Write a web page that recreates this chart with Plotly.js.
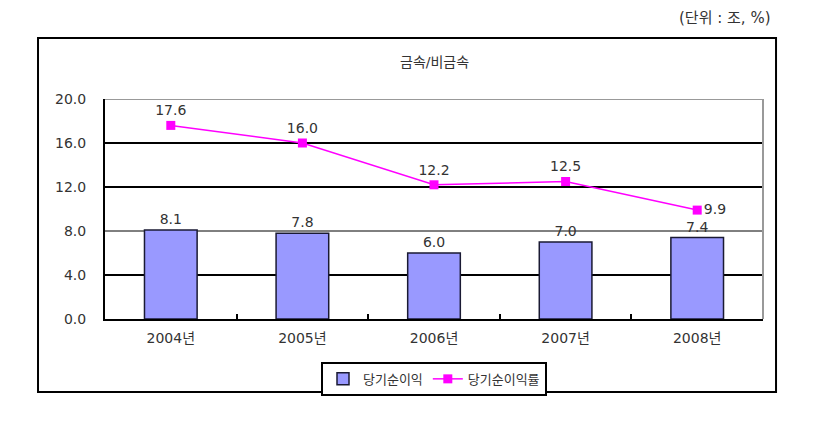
<!DOCTYPE html>
<html><head><meta charset="utf-8">
<script src="https://cdn.plot.ly/plotly-3.0.1.min.js"></script>
<style>body{margin:0;background:#fff}#c{width:822px;height:432px}</style>
</head><body><div id="c"></div>
<script>
const years = ['2004년','2005년','2006년','2007년','2008년'];
const netIncome = [8.1, 7.8, 6.0, 7.0, 7.4];
const netIncomeRate = [17.6, 16.0, 12.2, 12.5, 9.9];
const yTicks = [0, 4, 8, 12, 16, 20];
const thickGrid = [4, 12, 16];
const thinGrid = [8];

const FONT = 'DejaVu Sans, Noto Sans CJK KR, sans-serif';
const TXT = '#333';

const traces = [
  {type:'bar', name:'당기순이익', x:years, y:netIncome, width:0.4,
   marker:{color:'#9999FF', line:{color:'#1a1a33', width:1.5}},
   text:netIncome.map(v=>v.toFixed(1)), textposition:'outside', cliponaxis:false,
   textfont:{family:FONT, size:14, color:TXT}},
  {type:'scatter', name:'당기순이익률', x:years, y:netIncomeRate, mode:'lines+markers+text',
   line:{color:'#FF00FF', width:1.5}, marker:{symbol:'square', size:9, color:'#FF00FF'},
   text:netIncomeRate.map(v=>v.toFixed(1)),
   textposition:netIncomeRate.map((v,i)=> i===netIncomeRate.length-1 ? 'middle right' : 'top center'),
   textfont:{family:FONT, size:14, color:TXT}, cliponaxis:false}
];

const shapes = [];
thickGrid.forEach(v=>shapes.push({type:'line', xref:'paper', yref:'y', x0:0, x1:1, y0:v, y1:v, line:{color:'#000', width:2}, layer:'below'}));
thinGrid.forEach(v=>shapes.push({type:'line', xref:'paper', yref:'y', x0:0, x1:1, y0:v, y1:v, line:{color:'#000', width:1}, layer:'below'}));
shapes.push({type:'line', xref:'paper', yref:'y', x0:0, x1:1, y0:20, y1:20, line:{color:'#999', width:2}, layer:'below'});
shapes.push({type:'line', xref:'paper', yref:'paper', x0:1, x1:1, y0:0, y1:1, line:{color:'#999', width:2}, layer:'below'});
shapes.push({type:'rect', xref:'paper', yref:'paper', x0:-0.1018, x1:1.0198, y0:-0.332, y1:1.277, line:{color:'#000', width:2}, fillcolor:'rgba(0,0,0,0)'});

const layout = {
  width:822, height:432,
  margin:{l:105, r:59, t:99, b:113},
  paper_bgcolor:'#fff', plot_bgcolor:'#fff',
  font:{family:FONT, size:13, color:TXT},
  showlegend:true,
  legend:{orientation:'h', x:0.5, xanchor:'center', y:-0.195, yanchor:'top',
    bordercolor:'#000', borderwidth:2, font:{family:FONT, size:13, color:TXT},
    itemwidth:30, tracegroupgap:0},
  xaxis:{type:'category', showgrid:false, showline:true, linecolor:'#000', linewidth:2,
    ticks:'inside', tickson:'boundaries', ticklen:5, tickwidth:2, tickcolor:'#000',
    tickfont:{family:FONT, size:14, color:TXT}, ticklabelstandoff:5},
  yaxis:{range:[0,20], tickvals:yTicks, ticktext:yTicks.map(v=>v.toFixed(1)),
    showgrid:false, zeroline:false, showline:true, linecolor:'#000', linewidth:2,
    ticks:'outside', ticklen:14, tickcolor:'rgba(0,0,0,0)',
    tickfont:{family:FONT, size:14, color:TXT}},
  shapes:shapes,
  annotations:[
    {text:'금속/비금속', xref:'paper', yref:'paper', x:0.5, y:(319-62)/220, xanchor:'center', yanchor:'middle', showarrow:false, font:{family:FONT, size:14, color:TXT}},
    {text:'(단위 : 조, %)', xref:'paper', yref:'paper', x:(772-105)/658, y:(319-18)/220, xanchor:'right', yanchor:'middle', showarrow:false, font:{family:FONT, size:15, color:TXT}}
  ]
};
Plotly.newPlot('c', traces, layout, {displayModeBar:false, staticPlot:true});
</script></body></html>
